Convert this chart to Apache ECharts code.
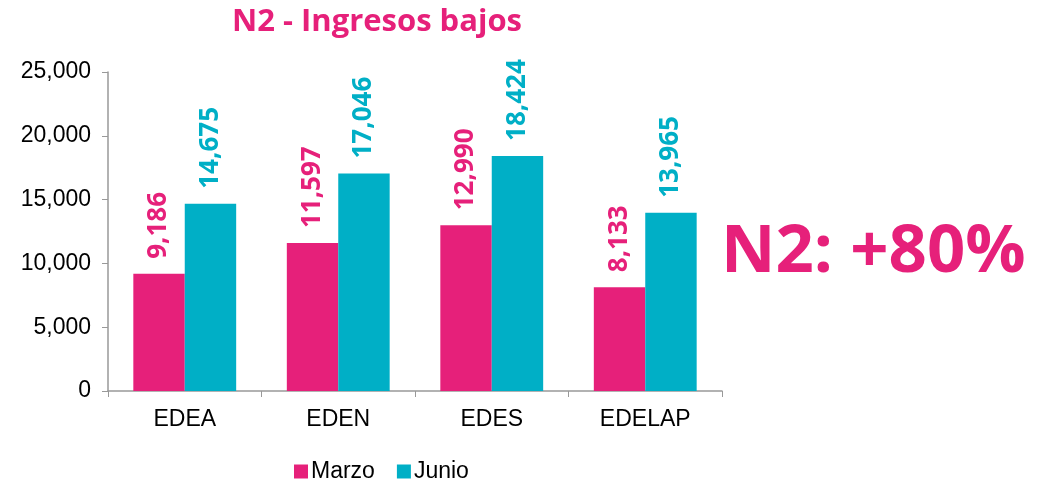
<!DOCTYPE html>
<html>
<head>
<meta charset="utf-8">
<script src="https://cdn.jsdelivr.net/npm/echarts@6/dist/echarts.min.js"></script>
<style>
  html, body { margin: 0; padding: 0; background: #fff; }
  #main { width: 1041px; height: 483px; }
</style>
</head>
<body>
<div id="main"></div>
<script>
var categories = ['EDEA', 'EDEN', 'EDES', 'EDELAP'];
var marzo = [9186, 11597, 12990, 8133];
var junio = [14675, 17046, 18424, 13965];
var seriesNames = ['Marzo', 'Junio'];

var pink = '#E6207A';
var teal = '#00AFC6';

var myChart = echarts.init(document.getElementById('main'));

function fmt(v) {
    return v.toLocaleString('en-US');
}

var labelStyle = function (color) {
    return {
        show: true,
        position: 'top',
        rotate: 90,
        align: 'left',
        verticalAlign: 'middle',
        distance: 15,
        color: color,
        fontSize: 26,
        fontWeight: 'bold',
        fontFamily: 'Open Sans',
        formatter: function (p) { return fmt(p.value); }
    };
};

var option = {
    animation: false,
    title: {
        text: 'N2 - Ingresos bajos',
        left: 372,
        textAlign: 'center',
        top: 2,
        textStyle: { color: pink, fontSize: 31, fontWeight: 'bold', fontFamily: 'Open Sans' }
    },
    grid: { left: 108, right: 319, top: 72, bottom: 92 },
    legend: {
        top: 455,
        left: 289,
        itemWidth: 14,
        itemHeight: 14,
        itemGap: 22,
        icon: 'rect',
        textStyle: { fontSize: 23, color: '#000', fontFamily: 'Liberation Sans', padding: [0, 0, 0, -2] },
        data: seriesNames
    },
    xAxis: {
        type: 'category',
        data: categories,
        axisLine: { lineStyle: { color: '#999', width: 1.5 } },
        axisTick: { show: true, length: 6, lineStyle: { color: '#999' } },
        axisLabel: { color: '#000', fontSize: 23, fontFamily: 'Liberation Sans', margin: 17 }
    },
    yAxis: {
        type: 'value',
        min: 0,
        max: 25000,
        interval: 5000,
        axisLine: { show: true, lineStyle: { color: '#999', width: 1.5 } },
        axisTick: { show: true, length: 6, inside: false, lineStyle: { color: '#999' } },
        splitLine: { show: false },
        axisLabel: {
            color: '#000', fontSize: 23, fontFamily: 'Liberation Sans', margin: 17,
            formatter: function (v) { return fmt(v); }
        }
    },
    series: [
        {
            name: seriesNames[0],
            type: 'bar',
            data: marzo,
            itemStyle: { color: pink },
            barGap: '0%',
            barCategoryGap: '33%',
            label: labelStyle(pink)
        },
        {
            name: seriesNames[1],
            type: 'bar',
            data: junio,
            itemStyle: { color: teal },
            label: labelStyle(teal)
        }
    ],
    graphic: [{
        type: 'text',
        left: 721,
        top: 219,
        style: {
            text: 'N2: +80%',
            fill: pink,
            font: 'bold 67px "Open Sans"'
        }
    }]
};

myChart.setOption(option);
</script>
</body>
</html>
